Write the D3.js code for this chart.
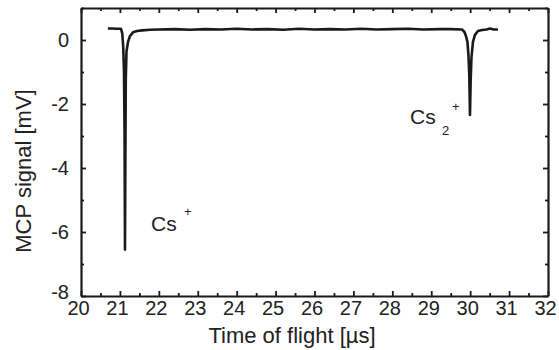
<!DOCTYPE html>
<html>
<head>
<meta charset="utf-8">
<script src="https://cdn.jsdelivr.net/npm/d3@7"></script>
<style>
  body { margin: 0; background: #fff; }
  text { font-family: "Liberation Sans", Arial, sans-serif; fill: #222; }
</style>
</head>
<body>
<div id="chart"></div>
<script>
// trace: time [us], MCP signal [mV]
var times = [20.69, 20.80, 20.90, 21.00, 21.03, 21.061, 21.084, 21.105, 21.12, 21.13,
  21.141, 21.151, 21.169, 21.208, 21.259, 21.336, 21.439, 21.567, 21.773,
  22.0, 22.4, 22.8, 23.2, 23.6, 24.0, 24.4, 24.8, 25.2, 25.6, 26.0, 26.4, 26.8,
  27.2, 27.6, 28.0, 28.4, 28.8, 29.2, 29.5, 29.789,
  29.853, 29.892, 29.930, 29.956, 29.977, 29.995, 30.013, 30.033, 30.072, 30.123,
  30.200, 30.303, 30.42, 30.509, 30.6, 30.715]
var signal = [0.36, 0.36, 0.35, 0.35, 0.34, 0.2, -0.2, -1.0, -3.0, -6.55,
  -3.5, -1.2, -0.35, -0.06, 0.125, 0.24, 0.28, 0.30, 0.32,
  0.33, 0.34, 0.32, 0.34, 0.33, 0.35, 0.33, 0.34, 0.32, 0.35, 0.33, 0.34, 0.33,
  0.35, 0.33, 0.34, 0.35, 0.33, 0.34, 0.34, 0.33,
  0.25, 0.125, -0.06, -0.47, -1.1, -2.34, -1.25, -0.56, -0.06, 0.16,
  0.28, 0.31, 0.33, 0.36, 0.33, 0.33]

var xTicks = [20, 21, 22, 23, 24, 25, 26, 27, 28, 29, 30, 31, 32]
var yTicks = [0, -2, -4, -6, -8]

var width = 559, height = 350
var margin = {left: 81, right: 11, top: 8, bottom: 54}

var svg = d3.select("#chart").append("svg")
  .attr("width", width)
  .attr("height", height)

var x = d3.scaleLinear().domain([20, 32]).range([margin.left, width - margin.right])
var y = d3.scaleLinear().domain([-8, 1]).range([height - margin.bottom, margin.top])

// ticks point inward on all four sides
function addTicks(axis, minorAxis, tf, cls) {
  svg.append("g").attr("transform", tf).call(minorAxis)
    .call(g => g.selectAll("text").remove())
    .call(g => g.select(".domain").remove())
  svg.append("g").attr("class", cls).attr("transform", tf).call(axis)
}

var yb = y.range()[0], yt = y.range()[1]
var minorX = d3.range(20.5, 32, 1)
var minorY = [1, -1, -3, -5, -7]
var fmt = d => String(d)   // plain hyphen, like the original

addTicks(
  d3.axisBottom(x).tickValues(xTicks).tickSizeInner(-5).tickSizeOuter(0).tickPadding(5).tickFormat(fmt),
  d3.axisBottom(x).tickValues(minorX).tickSize(-3),
  "translate(0," + yb + ")", "xaxis")
addTicks(
  d3.axisTop(x).tickValues(xTicks).tickSizeInner(-5).tickSizeOuter(0).tickFormat(""),
  d3.axisTop(x).tickValues(minorX).tickSize(-3),
  "translate(0," + yt + ")", "top")
addTicks(
  d3.axisLeft(y).tickValues(yTicks).tickSizeInner(-5).tickSizeOuter(0).tickPadding(12).tickFormat(fmt),
  d3.axisLeft(y).tickValues(minorY).tickSize(-3),
  "translate(" + margin.left + ",0)", "yaxis")
addTicks(
  d3.axisRight(y).tickValues(yTicks).tickSizeInner(-5).tickSizeOuter(0).tickFormat(""),
  d3.axisRight(y).tickValues(minorY).tickSize(-3),
  "translate(" + (width - margin.right) + ",0)", "right")

svg.selectAll(".domain").attr("stroke", "#1a1a1a").attr("stroke-width", 2.2)
svg.selectAll(".tick line").attr("stroke", "#1a1a1a").attr("stroke-width", 1.8)
svg.selectAll(".tick text")
  .attr("font-size", 20)
  .attr("font-family", "Liberation Sans, Arial, sans-serif")
  .attr("fill", "#222")

svg.select(".xaxis").selectAll(".tick text").attr("dx", -3)
svg.select(".yaxis").selectAll(".tick text").filter(d => d == -8).attr("dy", "0.1em")

// trace
var line = d3.line()
  .x((d, i) => x(times[i]))
  .y(d => y(d))

svg.append("path")
  .datum(signal)
  .attr("d", line)
  .attr("fill", "none")
  .attr("stroke", "#1a1a1a")
  .attr("stroke-width", 2.6)
  .attr("stroke-linejoin", "round")

// axis titles
svg.append("text")
  .attr("x", 292).attr("y", 343)
  .attr("text-anchor", "middle")
  .attr("font-size", 22)
  .text("Time of flight [µs]")

svg.append("text")
  .attr("transform", "translate(31," + 171 + ") rotate(-90)")
  .attr("text-anchor", "middle")
  .attr("font-size", 22)
  .text("MCP signal [mV]")

// peak labels
svg.append("text").attr("x", 151).attr("y", 231).attr("font-size", 21).text("Cs")
svg.append("text").attr("x", 184).attr("y", 216).attr("font-size", 13).text("+")

svg.append("text").attr("x", 410).attr("y", 124).attr("font-size", 21).text("Cs")
svg.append("text").attr("x", 442).attr("y", 135).attr("font-size", 13).text("2")
svg.append("text").attr("x", 452).attr("y", 111).attr("font-size", 13).text("+")
</script>
</body>
</html>
